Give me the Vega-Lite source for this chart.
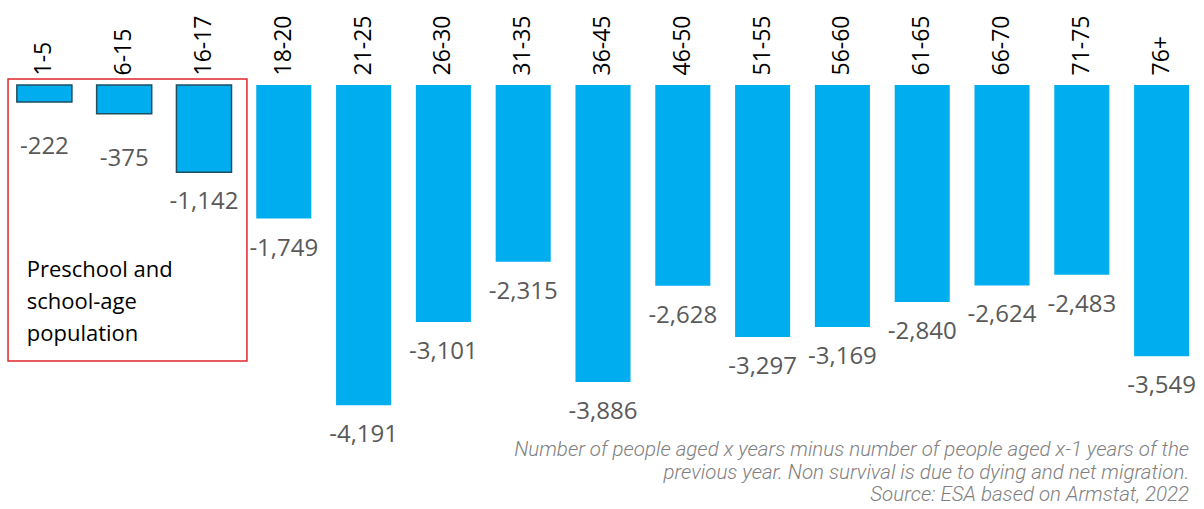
{
  "$schema": "https://vega.github.io/schema/vega-lite/v6.json",
  "autosize": "none",
  "width": 1202,
  "height": 382,
  "padding": {"top": 85, "left": 2, "right": 0, "bottom": 42},
  "background": "white",
  "config": {
    "view": {"stroke": null},
    "locale": {"number": {"decimal": ".", "thousands": ",", "grouping": [3], "currency": ["$", ""], "minus": "-"}}
  },
  "data": {
    "values": [
      {"age": "1-5", "value": -222},
      {"age": "6-15", "value": -375},
      {"age": "16-17", "value": -1142},
      {"age": "18-20", "value": -1749},
      {"age": "21-25", "value": -4191},
      {"age": "26-30", "value": -3101},
      {"age": "31-35", "value": -2315},
      {"age": "36-45", "value": -3886},
      {"age": "46-50", "value": -2628},
      {"age": "51-55", "value": -3297},
      {"age": "56-60", "value": -3169},
      {"age": "61-65", "value": -2840},
      {"age": "66-70", "value": -2624},
      {"age": "71-75", "value": -2483},
      {"age": "76+", "value": -3549}
    ]
  },
  "encoding": {
    "x": {
      "field": "age", "type": "nominal", "sort": null,
      "scale": {"paddingInner": 0.31, "paddingOuter": 0.186},
      "axis": {"orient": "top", "title": null, "labelAngle": -90, "ticks": false, "domain": false,
               "labelFont": "Open Sans", "labelFontSize": 23, "labelColor": "#000000", "labelPadding": 10}
    },
    "y": {
      "field": "value", "type": "quantitative",
      "scale": {"domain": [-5000, 0], "nice": false, "zero": false},
      "axis": null
    }
  },
  "layer": [
    {
      "mark": {"type": "bar", "fill": "#00AEEF"},
      "encoding": {
        "stroke": {"condition": {"test": "indexof(['1-5','6-15','16-17'], datum.age) >= 0", "value": "#1F4E5F"}, "value": null},
        "strokeWidth": {"condition": {"test": "indexof(['1-5','6-15','16-17'], datum.age) >= 0", "value": 1.5}, "value": 0}
      }
    },
    {
      "transform": [{"filter": "datum.value < -500"}],
      "mark": {"type": "text", "font": "Open Sans", "fontSize": 24, "color": "#595959", "baseline": "middle", "dy": 30},
      "encoding": {"text": {"field": "value", "type": "quantitative", "format": ",d"}}
    },
    {
      "transform": [{"filter": "datum.value >= -500"}],
      "mark": {"type": "text", "font": "Open Sans", "fontSize": 24, "color": "#595959", "baseline": "middle", "dy": 45},
      "encoding": {"text": {"field": "value", "type": "quantitative", "format": ",d"}}
    },
    {
      "data": {"values": [{"y1": 79, "y2": -3614}]},
      "mark": {"type": "rect", "fill": null, "stroke": "#E0262D", "strokeWidth": 1.5},
      "encoding": {
        "x": {"datum": "1-5", "bandPosition": -0.16},
        "x2": {"datum": "16-17", "bandPosition": 1.28},
        "y": {"field": "y1", "type": "quantitative"},
        "y2": {"field": "y2"}
      }
    },
    {
      "data": {"values": [{"y": -2420, "label": ["Preschool and", "school-age", "population"]}]},
      "mark": {"type": "text", "font": "Open Sans", "fontSize": 22, "color": "#000000", "align": "left", "baseline": "middle", "lineHeight": 32},
      "encoding": {
        "x": {"datum": "1-5", "bandPosition": 0.18},
        "y": {"field": "y", "type": "quantitative"},
        "text": {"field": "label"}
      }
    },
    {
      "data": {"values": [{"y": -4780, "label": ["Number of people aged x years minus number of people aged x-1 years of the", "previous year. Non survival is due to dying and net migration.", "Source: ESA based on Armstat, 2022"]}]},
      "mark": {"type": "text", "font": "Roboto", "fontSize": 20.5, "fontStyle": "italic", "fontWeight": 300, "color": "#7F7F7F", "align": "right", "baseline": "middle", "lineHeight": 22.5},
      "encoding": {
        "x": {"datum": "76+", "bandPosition": 1},
        "y": {"field": "y", "type": "quantitative"},
        "text": {"field": "label"}
      }
    }
  ]
}
